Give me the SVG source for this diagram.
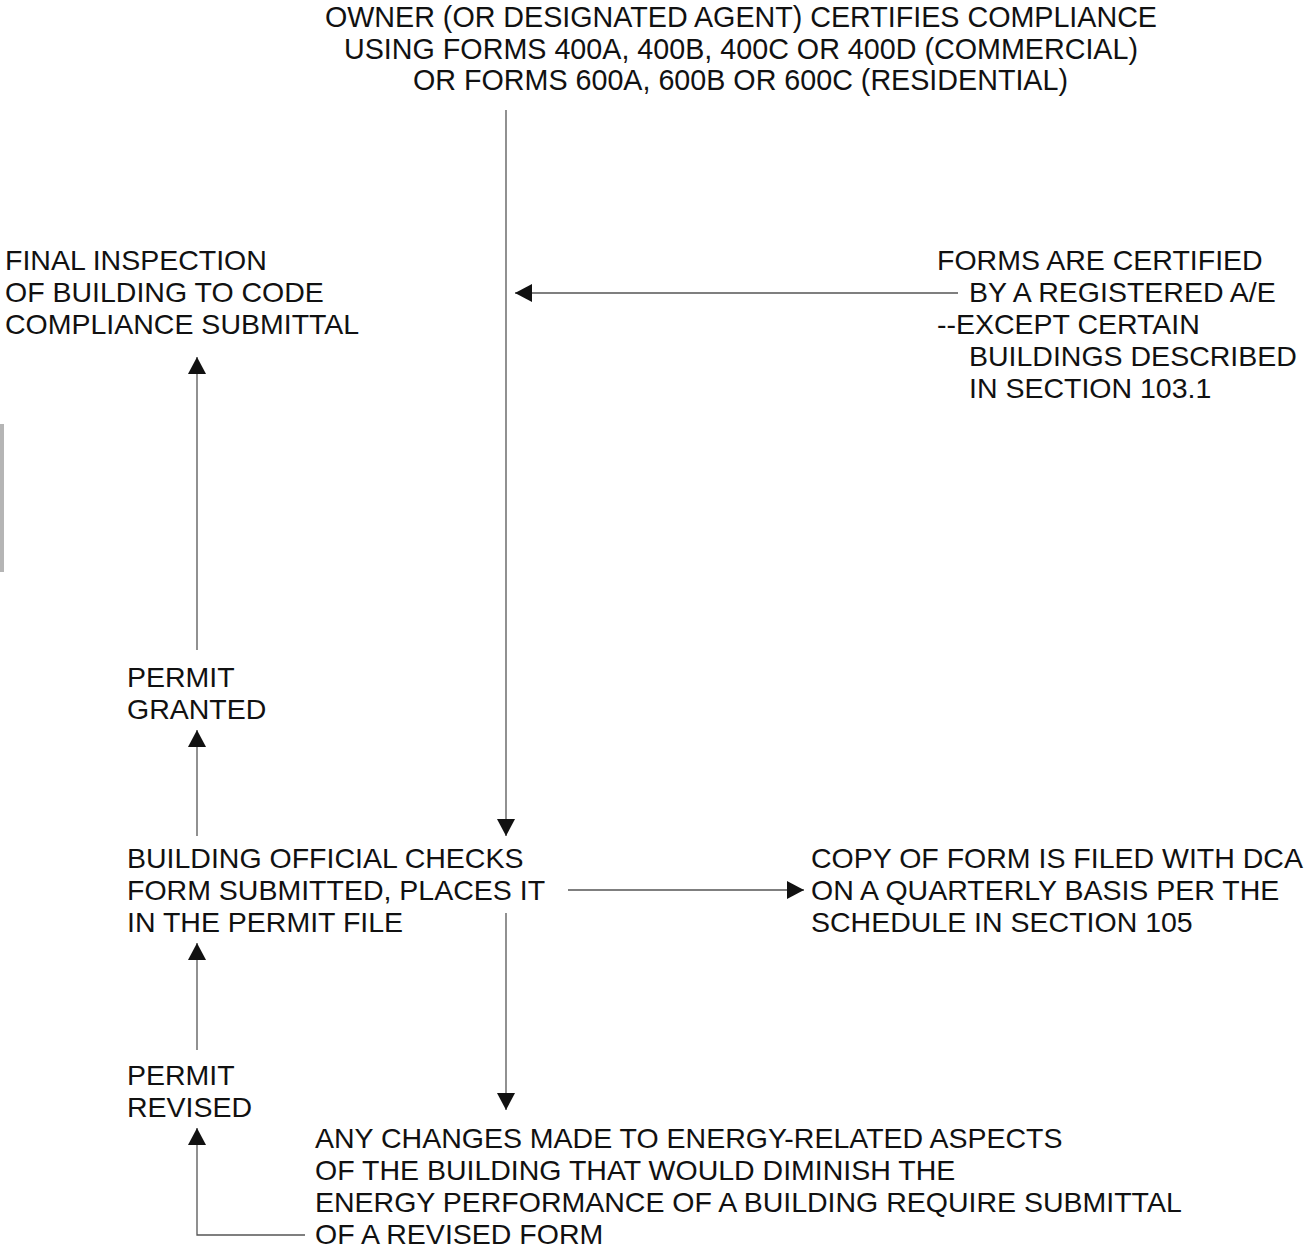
<svg xmlns="http://www.w3.org/2000/svg" width="1307" height="1249" viewBox="0 0 1307 1249">
<style>
text{font-family:"Liberation Sans",Arial,sans-serif;font-size:28.5px;fill:#111}
.cond{font-size:30px}
.ln{stroke:#555;stroke-width:1.3;fill:none}
</style>
<defs>
<marker id="ah" viewBox="0 0 17 18" refX="17" refY="9" markerWidth="17" markerHeight="18" markerUnits="userSpaceOnUse" orient="auto">
<path d="M0,0 L17,9 L0,18 Z" fill="#111"/>
</marker>
</defs>
<rect width="1307" height="1249" fill="#fff"/>
<rect x="0" y="424" width="4" height="148" fill="#b5b5b5"/>
<g id="owner">
<text class="cond" x="325" y="27" textLength="832" lengthAdjust="spacingAndGlyphs">OWNER (OR DESIGNATED AGENT) CERTIFIES COMPLIANCE</text>
<text class="cond" x="344" y="59" textLength="794" lengthAdjust="spacingAndGlyphs">USING FORMS 400A, 400B, 400C OR 400D (COMMERCIAL)</text>
<text class="cond" x="413" y="90" textLength="655" lengthAdjust="spacingAndGlyphs">OR FORMS 600A, 600B OR 600C (RESIDENTIAL)</text>
</g>
<g id="final">
<text x="5" y="270">FINAL INSPECTION</text>
<text x="5" y="302">OF BUILDING TO CODE</text>
<text x="5" y="334">COMPLIANCE SUBMITTAL</text>
</g>
<g id="forms">
<text x="937" y="270">FORMS ARE CERTIFIED</text>
<text x="969" y="302">BY A REGISTERED A/E</text>
<text x="937" y="334">--EXCEPT CERTAIN</text>
<text x="969" y="366">BUILDINGS DESCRIBED</text>
<text x="969" y="398">IN SECTION 103.1</text>
</g>
<g id="granted">
<text x="127" y="687">PERMIT</text>
<text x="127" y="719">GRANTED</text>
</g>
<g id="official">
<text x="127" y="868">BUILDING OFFICIAL CHECKS</text>
<text x="127" y="900">FORM SUBMITTED, PLACES IT</text>
<text x="127" y="932">IN THE PERMIT FILE</text>
</g>
<g id="copy">
<text x="811" y="868">COPY OF FORM IS FILED WITH DCA</text>
<text x="811" y="900">ON A QUARTERLY BASIS PER THE</text>
<text x="811" y="932">SCHEDULE IN SECTION 105</text>
</g>
<g id="revised">
<text x="127" y="1085">PERMIT</text>
<text x="127" y="1117">REVISED</text>
</g>
<g id="changes">
<text x="315" y="1148">ANY CHANGES MADE TO ENERGY-RELATED ASPECTS</text>
<text x="315" y="1180">OF THE BUILDING THAT WOULD DIMINISH THE</text>
<text x="315" y="1212">ENERGY PERFORMANCE OF A BUILDING REQUIRE SUBMITTAL</text>
<text x="315" y="1244">OF A REVISED FORM</text>
</g>
<g id="connectors">
<line class="ln" x1="506" y1="110" x2="506" y2="836" marker-end="url(#ah)"/>
<line class="ln" x1="958" y1="293" x2="515" y2="293" marker-end="url(#ah)"/>
<line class="ln" x1="197" y1="650" x2="197" y2="357" marker-end="url(#ah)"/>
<line class="ln" x1="197" y1="836" x2="197" y2="730" marker-end="url(#ah)"/>
<line class="ln" x1="568" y1="890" x2="804" y2="890" marker-end="url(#ah)"/>
<line class="ln" x1="506" y1="913" x2="506" y2="1110" marker-end="url(#ah)"/>
<line class="ln" x1="197" y1="1050" x2="197" y2="943" marker-end="url(#ah)"/>
<polyline class="ln" points="305,1235 197,1235 197,1128" marker-end="url(#ah)"/>
</g>
</svg>
